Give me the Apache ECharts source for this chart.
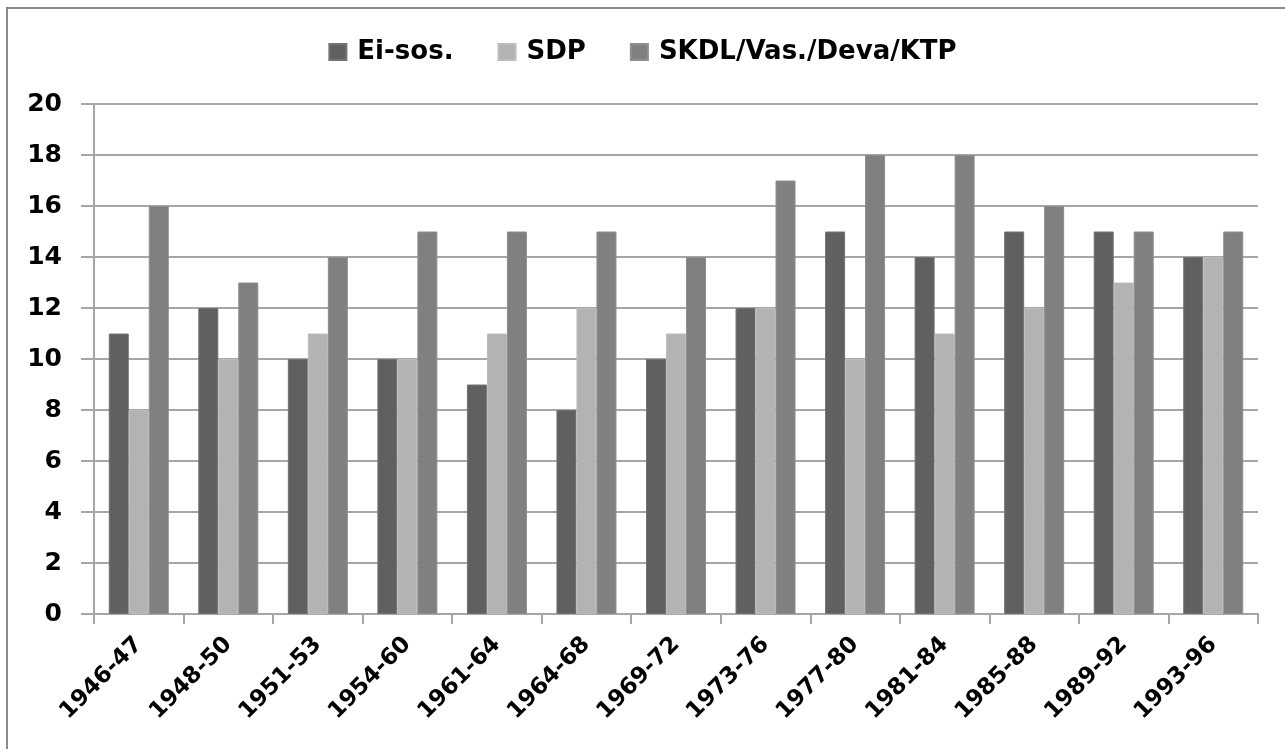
<!DOCTYPE html>
<html>
<head>
<meta charset="utf-8">
<script src="https://cdn.jsdelivr.net/npm/echarts@6/dist/echarts.min.js"></script>
<style>
  html, body { margin: 0; padding: 0; background: #fff; }
  #frame {
    position: absolute; left: 6px; top: 7px; width: 1285px; height: 749px;
    border-top: 2px solid #8a8a8a; border-left: 2px solid #8a8a8a;
  }
  #chart { position: absolute; left: 0; top: 0; width: 1285px; height: 749px; }
</style>
</head>
<body>
<div id="frame"></div>
<div id="chart"></div>
<script>
// vaalikaudet
const periods = ["1946-47", "1948-50", "1951-53", "1954-60", "1961-64", "1964-68", "1969-72",
  "1973-76", "1977-80", "1981-84", "1985-88", "1989-92", "1993-96"];
const eiSos = [11, 12, 10, 10, 9, 8, 10, 12, 15, 14, 15, 15, 14];
const sdp = [8, 10, 11, 10, 11, 12, 11, 12, 10, 11, 12, 13, 14];
const skdl = [16, 13, 14, 15, 15, 15, 14, 17, 18, 18, 16, 15, 15];

const font = "'DejaVu Sans', sans-serif";

const chart = echarts.init(document.getElementById("chart"));
chart.setOption({
  animation: false,
  textStyle: { fontFamily: font },
  legend: {
    top: 34,
    left: "center",
    itemWidth: 17,
    itemHeight: 16,
    itemGap: 44,
    icon: "rect",
    textStyle: {
      fontSize: 26, fontWeight: "bold", color: "#000", fontFamily: font,
      padding: [0, 0, 0, 6]
    }
  },
  grid: { left: 94, right: 27, top: 104, bottom: 135 },
  xAxis: {
    type: "category",
    data: periods,
    axisLine: { lineStyle: { color: "#a6a6a6", width: 2 } },
    axisTick: { show: true, length: 10, lineStyle: { color: "#a6a6a6", width: 2 } },
    axisLabel: {
      rotate: 45,
      margin: 27,
      color: "#000",
      fontSize: 23,
      fontWeight: "bold",
      fontFamily: font
    }
  },
  yAxis: {
    type: "value",
    min: 0,
    max: 20,
    interval: 2,
    axisLine: { show: true, lineStyle: { color: "#a6a6a6", width: 2 } },
    axisTick: { show: true, length: 13, lineStyle: { color: "#a6a6a6", width: 2 } },
    splitLine: { lineStyle: { color: "#a6a6a6", width: 2 } },
    axisLabel: {
      margin: 32,
      color: "#000",
      fontSize: 25,
      fontWeight: "bold",
      fontFamily: font
    }
  },
  series: [
    {
      name: "Ei-sos.", type: "bar", data: eiSos, barGap: "0%", barCategoryGap: "33%",
      itemStyle: { color: "#606060", borderColor: "#727272", borderWidth: 1 }
    },
    {
      name: "SDP", type: "bar", data: sdp,
      itemStyle: { color: "#b3b3b3", borderColor: "#bdbdbd", borderWidth: 1 }
    },
    {
      name: "SKDL/Vas./Deva/KTP", type: "bar", data: skdl,
      itemStyle: { color: "#808080", borderColor: "#8e8e8e", borderWidth: 1 }
    }
  ]
});
</script>
</body>
</html>
